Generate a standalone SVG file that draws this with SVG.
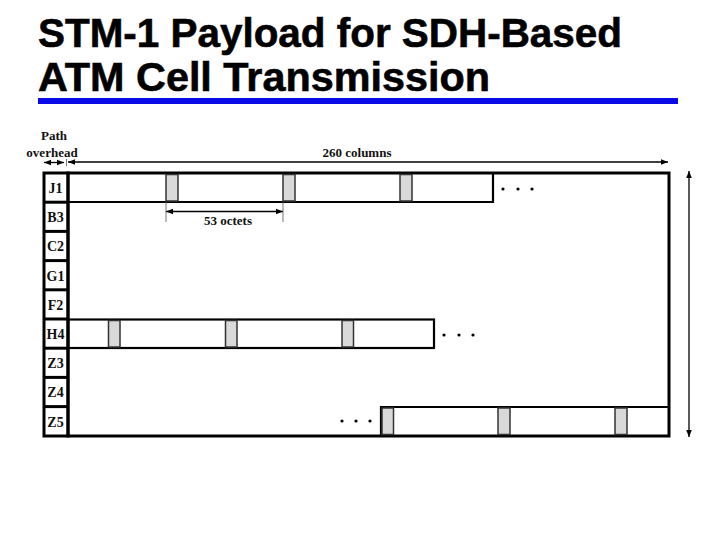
<svg xmlns="http://www.w3.org/2000/svg" width="720" height="540" viewBox="0 0 720 540">
<style>
.title{font-family:"Liberation Sans",Arial,sans-serif;font-weight:bold;font-size:41px;fill:#000;stroke:#000;stroke-width:0.6}
.lbl{font-family:"Liberation Serif","Times New Roman",serif;font-weight:bold;font-size:13px;fill:#111}
.row{font-family:"Liberation Serif","Times New Roman",serif;font-weight:bold;font-size:14px;fill:#111;text-anchor:middle}
.frame{fill:none;stroke:#000;stroke-width:3}
.cell{fill:none;stroke:#000;stroke-width:2.2}
.gray{fill:#d9d9d9;stroke:#333;stroke-width:1.5}
.ln{stroke:#000;stroke-width:1.3;fill:none}
.tick{stroke:#555;stroke-width:0.8}
.dot{fill:#000}
</style>
<defs>
<marker id="ah" viewBox="0 0 10 10" refX="10" refY="5" markerWidth="7" markerHeight="7" markerUnits="userSpaceOnUse" orient="auto-start-reverse">
<path d="M0,1 L10,5 L0,9 z" fill="#000"/>
</marker>
</defs>
<g id="title">
<text class="title" x="38" y="47" textLength="584" lengthAdjust="spacingAndGlyphs">STM-1 Payload for SDH-Based</text>
<text class="title" x="38" y="91" textLength="452" lengthAdjust="spacingAndGlyphs">ATM Cell Transmission</text>
<rect x="38" y="98" width="640" height="6" fill="#0a0ae6"/>
</g>
<g id="labels">
<text class="lbl" x="54" y="140" text-anchor="middle">Path</text>
<text class="lbl" x="52" y="157" text-anchor="middle">overhead</text>
<text class="lbl" x="357" y="157" text-anchor="middle">260 columns</text>
<text class="lbl" x="228" y="225" text-anchor="middle">53 octets</text>
</g>
<g id="overhead-column">
<rect class="frame" x="44" y="173" width="24" height="263"/>
<line class="frame" x1="44" y1="202.2" x2="68" y2="202.2"/>
<line class="frame" x1="44" y1="231.4" x2="68" y2="231.4"/>
<line class="frame" x1="44" y1="260.6" x2="68" y2="260.6"/>
<line class="frame" x1="44" y1="289.8" x2="68" y2="289.8"/>
<line class="frame" x1="44" y1="319" x2="68" y2="319"/>
<line class="frame" x1="44" y1="348.2" x2="68" y2="348.2"/>
<line class="frame" x1="44" y1="377.4" x2="68" y2="377.4"/>
<line class="frame" x1="44" y1="406.6" x2="68" y2="406.6"/>
<text class="row" x="55.5" y="193">J1</text>
<text class="row" x="55.5" y="222">B3</text>
<text class="row" x="55.5" y="251">C2</text>
<text class="row" x="55.5" y="281">G1</text>
<text class="row" x="55.5" y="310">F2</text>
<text class="row" x="55.5" y="339">H4</text>
<text class="row" x="55.5" y="368">Z3</text>
<text class="row" x="55.5" y="397">Z4</text>
<text class="row" x="55.5" y="427">Z5</text>
</g>
<g id="payload-frame">
<rect class="frame" x="68" y="173" width="601" height="263"/>
</g>
<g id="j1-cells">
<path class="cell" d="M68,202 H493 V173"/>
<rect class="gray" x="166" y="174.5" width="12" height="26.5"/>
<rect class="gray" x="283" y="174.5" width="12" height="26.5"/>
<rect class="gray" x="400" y="174.5" width="12" height="26.5"/>
<circle class="dot" cx="503" cy="189" r="1.6"/>
<circle class="dot" cx="518" cy="189" r="1.6"/>
<circle class="dot" cx="532" cy="189" r="1.6"/>
</g>
<g id="h4-cells">
<rect class="cell" x="68" y="319.5" width="366" height="28.5"/>
<rect class="gray" x="108.5" y="320.5" width="11.5" height="26.5"/>
<rect class="gray" x="225.5" y="320.5" width="11.5" height="26.5"/>
<rect class="gray" x="342" y="320.5" width="11.5" height="26.5"/>
<circle class="dot" cx="444" cy="335" r="1.6"/>
<circle class="dot" cx="459" cy="335" r="1.6"/>
<circle class="dot" cx="473" cy="335" r="1.6"/>
</g>
<g id="z5-cells">
<path class="cell" d="M381,436 V407 H669"/>
<rect class="gray" x="382" y="408" width="11.5" height="26.5"/>
<rect class="gray" x="498" y="408" width="12" height="26.5"/>
<rect class="gray" x="615" y="408" width="12" height="26.5"/>
<circle class="dot" cx="342" cy="421" r="1.6"/>
<circle class="dot" cx="356" cy="421" r="1.6"/>
<circle class="dot" cx="370" cy="421" r="1.6"/>
</g>
<g id="connectors">
<line class="ln" x1="44" y1="162.5" x2="64" y2="162.5" marker-start="url(#ah)" marker-end="url(#ah)"/>
<line class="tick" x1="66.5" y1="159" x2="66.5" y2="166"/>
<line class="ln" x1="68" y1="162" x2="668" y2="162" marker-start="url(#ah)" marker-end="url(#ah)"/>
<line class="ln" x1="166" y1="211.5" x2="283" y2="211.5" marker-start="url(#ah)" marker-end="url(#ah)"/>
<line class="tick" x1="166" y1="202" x2="166" y2="222"/>
<line class="tick" x1="283" y1="202" x2="283" y2="222"/>
<line class="ln" x1="689" y1="171" x2="689" y2="437" marker-start="url(#ah)" marker-end="url(#ah)"/>
</g>
</svg>
